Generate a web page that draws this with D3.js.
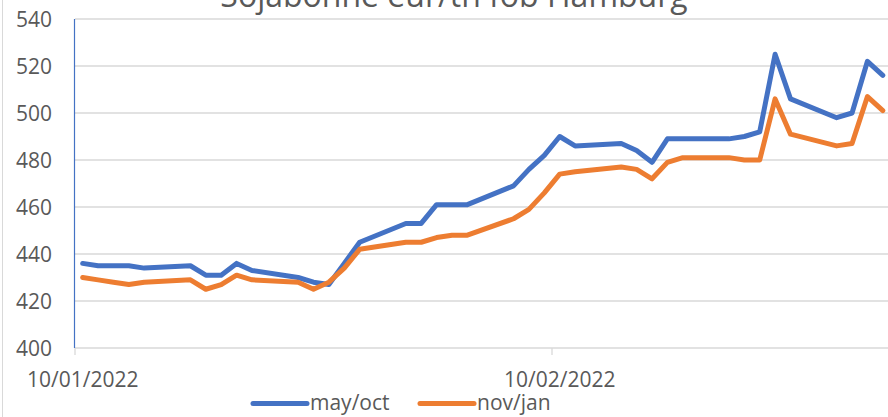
<!DOCTYPE html>
<html>
<head>
<meta charset="utf-8">
<script src="https://cdn.jsdelivr.net/npm/d3@7"></script>
<style>
  body { margin: 0; background: #fff; }
  svg { display: block; }
  text { font-family: "Open Sans", sans-serif; fill: #595959; }
</style>
</head>
<body>
<div class="chart"></div>
<script>
var svgWidth = 888;
var svgHeight = 417;

// trading days (dd/mm/yyyy)
var dates = [
  "10/01/2022", "11/01/2022", "12/01/2022", "13/01/2022", "14/01/2022",
  "17/01/2022", "18/01/2022", "19/01/2022", "20/01/2022", "21/01/2022",
  "24/01/2022", "25/01/2022", "26/01/2022", "27/01/2022", "28/01/2022",
  "31/01/2022", "01/02/2022", "02/02/2022", "03/02/2022", "04/02/2022",
  "07/02/2022", "08/02/2022", "09/02/2022", "10/02/2022", "11/02/2022",
  "14/02/2022", "15/02/2022", "16/02/2022", "17/02/2022", "18/02/2022",
  "21/02/2022", "22/02/2022", "23/02/2022", "24/02/2022", "25/02/2022",
  "28/02/2022", "01/03/2022", "02/03/2022", "03/03/2022"
];

var mayOct = [
  436, 435, 435, 435, 434,
  435, 431, 431, 436, 433,
  430, 428, 427, 436, 445,
  453, 453, 461, 461, 461,
  469, 476, 482, 490, 486,
  487, 484, 479, 489, 489,
  489, 490, 492, 525, 506,
  498, 500, 522, 516
];

var novJan = [
  430, 429, 428, 427, 428,
  429, 425, 427, 431, 429,
  428, 425, 428, 434, 442,
  445, 445, 447, 448, 448,
  455, 459, 466, 474, 475,
  477, 476, 472, 479, 481,
  481, 480, 480, 506, 491,
  486, 487, 507, 501
];

var seriesNames = ["may/oct", "nov/jan"];
var xTickLabels = ["10/01/2022", "10/02/2022"];
var yTicks = [400, 420, 440, 460, 480, 500, 520, 540];
var title = "Sojabohne eur/tn fob Hamburg";

var colors = ["#4472C4", "#ED7D31"];

var parseDate = d3.timeParse("%d/%m/%Y");
var dayMs = 24 * 3600 * 1000;

var plotLeft = 75;
var plotTop = 19;
var plotBottom = 348;
var pxPerDay = (552 - 75) / 31;

var svg = d3.select(".chart")
  .append("svg")
  .attr("width", svgWidth)
  .attr("height", svgHeight);

// scales
var xStart = parseDate(dates[0]);
var xEnd = d3.timeDay.offset(xStart, 53);
var xScale = d3.scaleTime()
  .domain([xStart, xEnd])
  .range([plotLeft, plotLeft + 53 * pxPerDay]);

var yScale = d3.scaleLinear()
  .domain([400, 540])
  .range([plotBottom, plotTop]);

// outer chart border (left edge visible)
svg.append("line")
  .attr("x1", 2.5).attr("x2", 2.5)
  .attr("y1", 0).attr("y2", svgHeight)
  .attr("stroke", "#d9d9d9")
  .attr("stroke-width", 1);

// title (cut at the top, as in the source)
svg.append("text")
  .attr("x", 454)
  .attr("y", 7)
  .attr("text-anchor", "middle")
  .attr("font-size", "32px")
  .text(title);

// gridlines
svg.append("g")
  .selectAll("line")
  .data(yTicks)
  .enter()
  .append("line")
  .attr("x1", plotLeft)
  .attr("x2", svgWidth)
  .attr("y1", d => yScale(d))
  .attr("y2", d => yScale(d))
  .attr("stroke", "#d9d9d9")
  .attr("stroke-width", 1.3);

// y tick labels
svg.append("g")
  .selectAll("text")
  .data(yTicks)
  .enter()
  .append("text")
  .attr("x", 52)
  .attr("y", d => yScale(d))
  .attr("dy", "0.36em")
  .attr("text-anchor", "end")
  .attr("font-size", "21px")
  .text(d => d);

// y axis line (blue)
svg.append("line")
  .attr("x1", plotLeft - 0.5).attr("x2", plotLeft - 0.5)
  .attr("y1", yScale(540)).attr("y2", yScale(400))
  .attr("stroke", "#4472C4")
  .attr("stroke-width", 1.2);

// x ticks + labels
var xTicks = xTickLabels.map(parseDate);
var xAxisG = svg.append("g");
xAxisG.selectAll("line")
  .data(xTicks)
  .enter()
  .append("line")
  .attr("x1", d => xScale(d))
  .attr("x2", d => xScale(d))
  .attr("y1", plotBottom)
  .attr("y2", plotBottom + 7)
  .attr("stroke", "#d9d9d9")
  .attr("stroke-width", 1.3);

xAxisG.selectAll("text")
  .data(xTicks)
  .enter()
  .append("text")
  .attr("x", d => xScale(new Date(+d + dayMs / 2)))
  .attr("y", 387)
  .attr("text-anchor", "middle")
  .attr("font-size", "21px")
  .text(d => d3.timeFormat("%d/%m/%Y")(d));

// lines
var line = d3.line()
  .x(d => xScale(new Date(+d.date + dayMs / 2)))
  .y(d => yScale(d.value));

var series = [mayOct, novJan].map(function(vals) {
  return vals.map(function(v, i) {
    return { date: parseDate(dates[i]), value: v };
  });
});

svg.append("g")
  .selectAll("path")
  .data(series)
  .enter()
  .append("path")
  .attr("d", line)
  .attr("fill", "none")
  .attr("stroke", (d, i) => colors[i])
  .attr("stroke-width", 5)
  .attr("stroke-linejoin", "round")
  .attr("stroke-linecap", "round");

// legend
var legendX = [253, 420];
var legend = svg.append("g");
legend.selectAll("line")
  .data(seriesNames)
  .enter()
  .append("line")
  .attr("x1", (d, i) => legendX[i])
  .attr("x2", (d, i) => legendX[i] + 54)
  .attr("y1", 403.5)
  .attr("y2", 403.5)
  .attr("stroke", (d, i) => colors[i])
  .attr("stroke-width", 5)
  .attr("stroke-linecap", "round");

legend.selectAll("text")
  .data(seriesNames)
  .enter()
  .append("text")
  .attr("x", (d, i) => legendX[i] + 57)
  .attr("y", 410)
  .attr("font-size", "21px")
  .text(d => d);
</script>
</body>
</html>
